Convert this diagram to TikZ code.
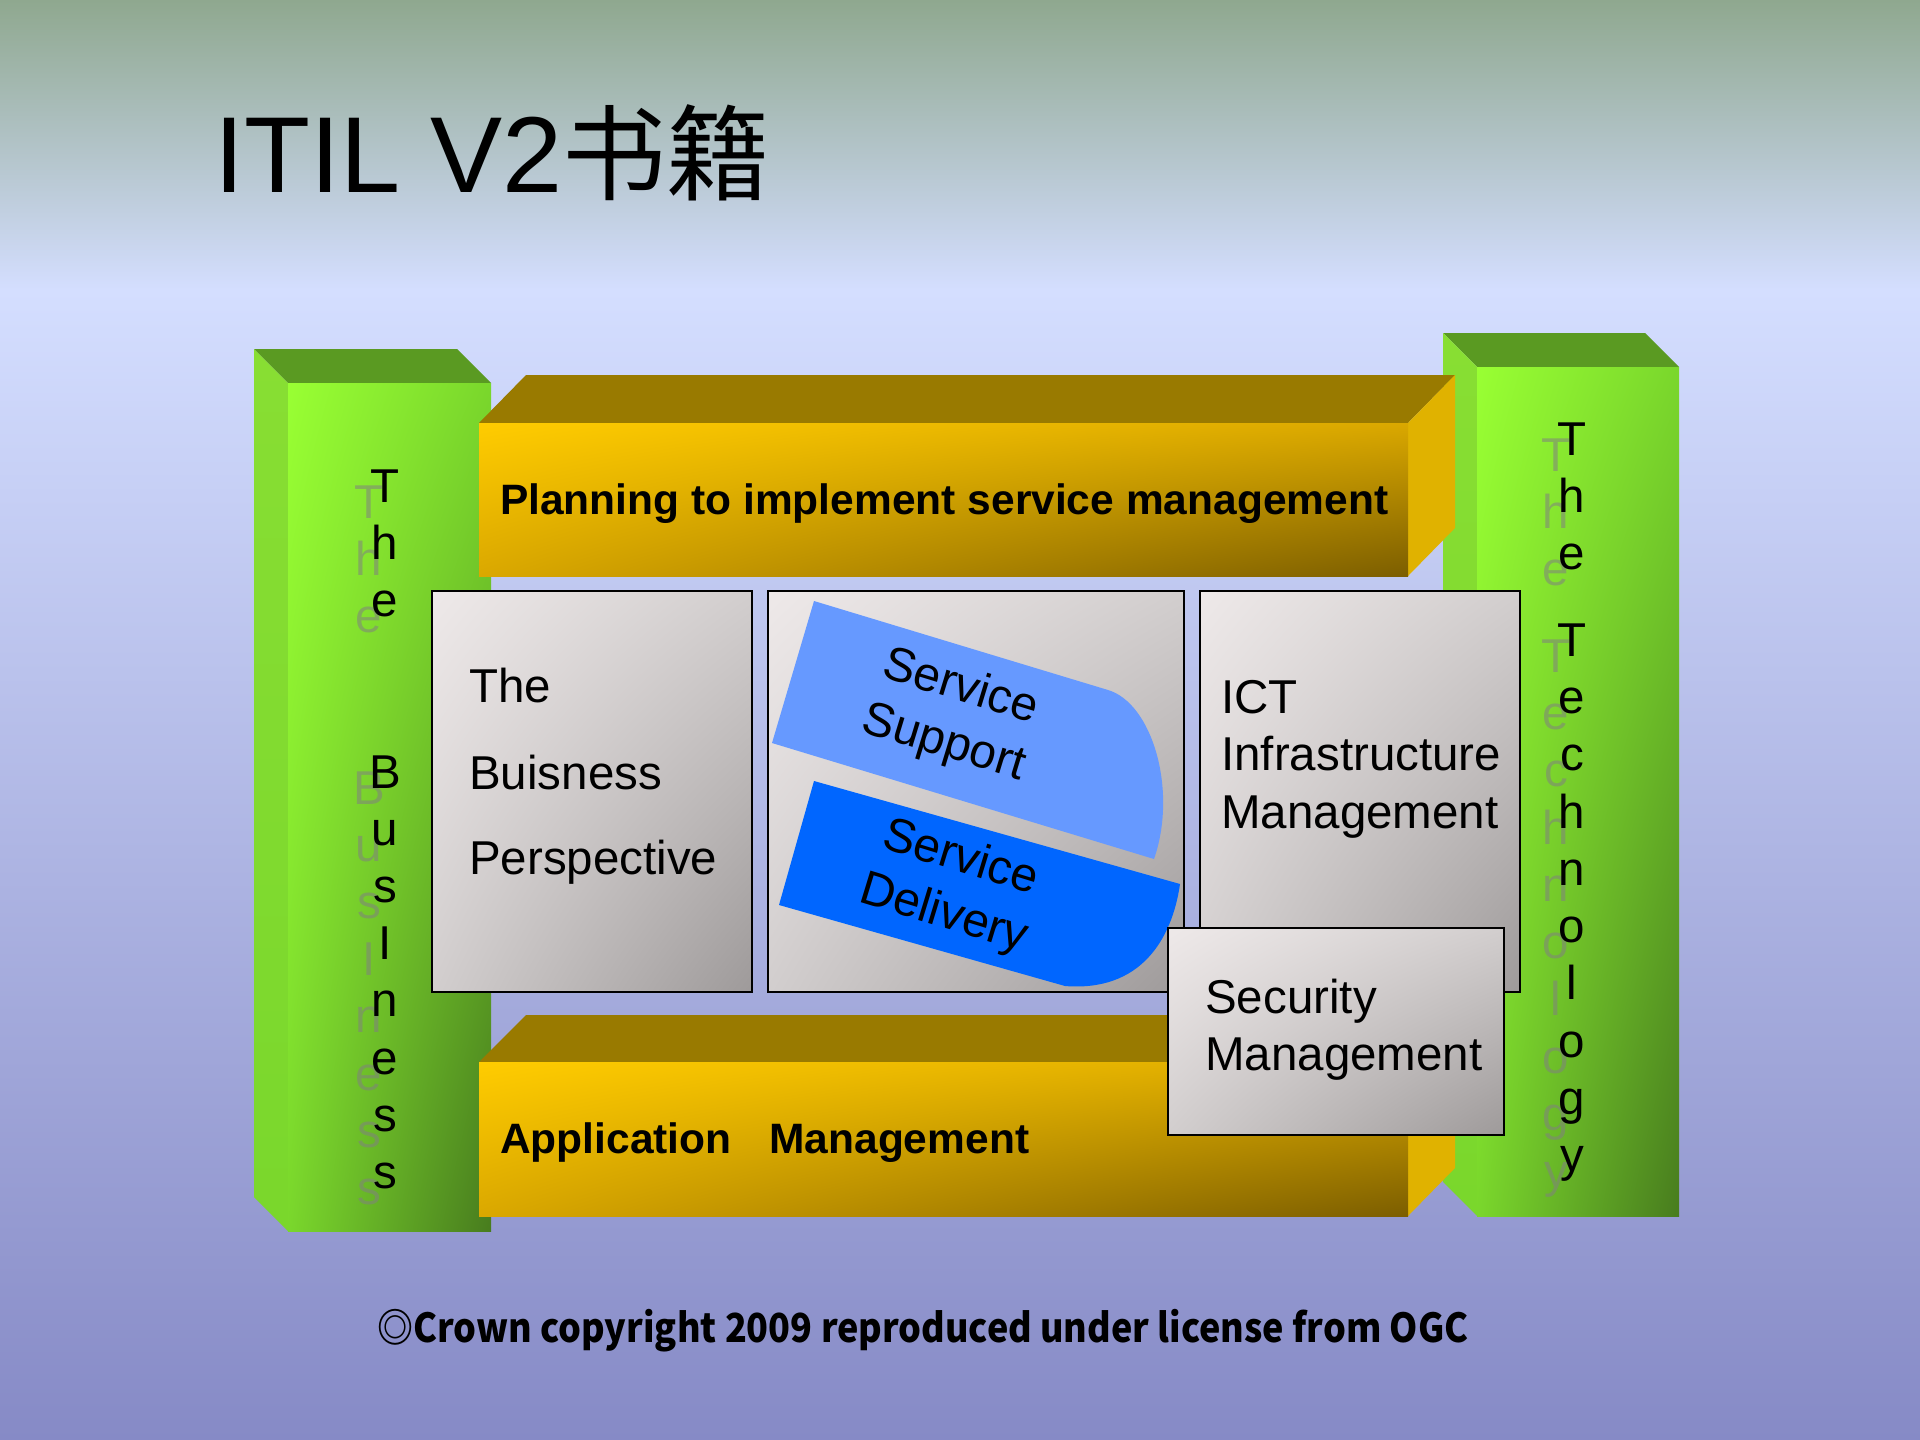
\documentclass[tikz,border=0pt]{standalone}
\usepackage{fontspec}
\setmainfont{Liberation Sans}
\newfontfamily\cjkfont{Noto Sans CJK SC}
\usetikzlibrary{shadings}
\definecolor{bgtop}{RGB}{143,168,143}
\definecolor{bgmid}{RGB}{212,222,255}
\definecolor{bgbot}{RGB}{134,138,198}
\definecolor{limeA}{RGB}{153,255,51}
\definecolor{limeB}{RGB}{122,215,44}
\definecolor{limeC}{RGB}{72,124,30}
\definecolor{limeTop}{RGB}{90,154,34}
\definecolor{limeSide}{RGB}{136,222,51}
\definecolor{goldA}{RGB}{255,204,0}
\definecolor{goldB}{RGB}{218,168,0}
\definecolor{goldC}{RGB}{124,94,0}
\definecolor{goldTop}{RGB}{153,122,0}
\definecolor{goldSide}{RGB}{224,178,0}
\definecolor{panelA}{RGB}{238,233,233}
\definecolor{panelB}{RGB}{210,206,206}
\definecolor{panelC}{RGB}{158,154,154}
\definecolor{supportblue}{RGB}{102,153,255}
\definecolor{deliveryblue}{RGB}{0,102,255}

\begin{document}
\begin{tikzpicture}[x=1pt, y=-1pt, every node/.style={inner sep=0pt},
	panel/.style={draw=black, line width=2.5pt, upper left=panelA, upper right=panelB, lower left=panelB, lower right=panelC},
	barfront/.style={upper left=goldA, upper right=goldB, lower left=goldB, lower right=goldC},
	pillarfront/.style={upper left=limeA, upper right=limeB, lower left=limeB, lower right=limeC},
	paneltext/.style={anchor=base west, font=\fontsize{47.5}{57}\selectfont},
	bartext/.style={anchor=base west, font=\fontsize{42.5}{50}\selectfont\bfseries},
	bluetext/.style={align=center, rotate=-17, font=\fontsize{48}{58}\selectfont},
	letter/.style={anchor=base, font=\fontsize{47.5}{50}\selectfont},
	echo/.style={letter, text=gray, opacity=0.55}]
	\useasboundingbox (0,0) rectangle (1920,1440);
	% background
	\shade[top color=bgtop, bottom color=bgmid] (0,0) rectangle (1920,290);
	\shade[top color=bgmid, bottom color=bgbot] (0,290) rectangle (1920,1440);
	\node[anchor=base west, font=\fontsize{108}{120}\selectfont] (title) at (214,192) {ITIL V2{\cjkfont\fontsize{104}{120}\selectfont 书籍}};

	% pillars
	\fill[limeTop] (254,349) -- (457,349) -- (491,383) -- (288,383) -- cycle;
	\shade[top color=limeSide, bottom color=limeB] (254,349) -- (288,383) -- (288,1231) -- (254,1197) -- cycle;
	\shade[pillarfront] (288,383) rectangle (491,1231);
	\fill[limeTop] (1443,333) -- (1645,333) -- (1679,367) -- (1477,367) -- cycle;
	\shade[top color=limeSide, bottom color=limeB] (1443,333) -- (1477,367) -- (1477,1216) -- (1443,1182) -- cycle;
	\shade[pillarfront] (1477,367) rectangle (1679,1216);

	\foreach \ch/\k in {T/0,h/1,e/2,B/5,u/6,s/7,I/8,n/9,e/10,s/11,s/12} {
		\node[echo] (bizecho\k) at ({385-16},{502+57.2*\k+16}) {\ch};
		\node[letter] (biz\k) at (385,{502+57.2*\k}) {\ch};
	}
	\foreach \ch/\yy [count=\i] in {T/455,h/512,e/569,T/656,e/713,c/770,h/828,n/885,o/942,l/999,o/1057,g/1114,y/1171} {
		\node[echo] (techecho\i) at ({1572-16},{\yy+16}) {\ch};
		\node[letter] (tech\i) at (1572,\yy) {\ch};
	}

	% bars
	\fill[goldTop] (479,423) -- (526,375) -- (1455,375) -- (1408,423) -- cycle;
	\fill[goldSide] (1408,423) -- (1455,375) -- (1455,528) -- (1408,576) -- cycle;
	\shade[barfront] (479,423) rectangle (1408,576);
	\node[bartext] (plan) at (500,514) {Planning to implement service management};
	\fill[goldTop] (479,1062) -- (526,1015) -- (1455,1015) -- (1408,1062) -- cycle;
	\fill[goldSide] (1408,1062) -- (1455,1015) -- (1455,1168) -- (1408,1216) -- cycle;
	\shade[barfront] (479,1062) rectangle (1408,1216);
	\node[bartext] (app) at (500,1153) {Application\hspace{26pt} Management};

	% panels
	\draw[panel] (432,591) rectangle (752,992);
	\node[paneltext] (bp1) at (469,702) {The};
	\node[paneltext] (bp2) at (469,789) {Buisness};
	\node[paneltext] (bp3) at (469,874) {Perspective};

	\draw[panel] (768,591) rectangle (1184,992);
	\fill[supportblue] (814,601) -- (1108,690) .. controls (1152,703) and (1178,790) .. (1154,859) -- (772,743) -- cycle;
	\fill[deliveryblue] (814,781) -- (1180,884) .. controls (1172,940) and (1140,992) .. (1065,986) -- (779,905) -- cycle;
	\node[bluetext] (support) at (952,716) {Service\\Support};
	\node[bluetext] (delivery) at (952,887) {Service\\Delivery};

	\draw[panel] (1200,591) rectangle (1520,992);
	\node[paneltext] (ict1) at (1221,713) {ICT};
	\node[paneltext] (ict2) at (1221,770) {Infrastructure};
	\node[paneltext] (ict3) at (1221,828) {Management};

	\draw[panel] (1168,928) rectangle (1504,1135);
	\node[paneltext] (sec1) at (1205,1013) {Security};
	\node[paneltext] (sec2) at (1205,1070) {Management};

	\node[font=\cjkfont\bfseries\fontsize{40}{48}\selectfont] (crown) at (923,1331) {\scalebox{0.9}[1]{◎Crown copyright 2009 reproduced under license from OGC}};
\end{tikzpicture}
\end{document}
